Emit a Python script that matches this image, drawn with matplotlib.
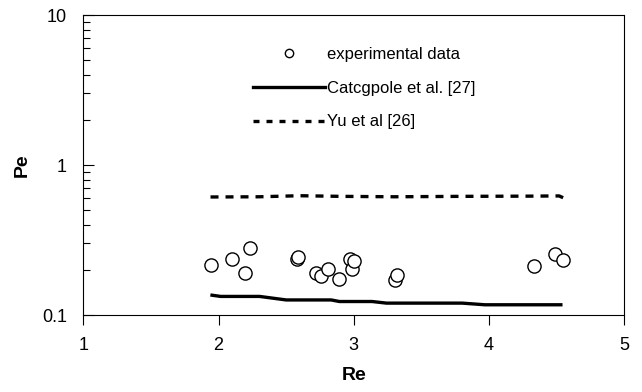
import matplotlib
matplotlib.use("Agg")
import matplotlib.pyplot as plt
from matplotlib.lines import Line2D
from matplotlib.ticker import LogLocator, FixedLocator, NullFormatter

plt.rcParams['font.family'] = ['Liberation Sans', 'DejaVu Sans']

# experimental data
exp_re = [1.945, 2.097, 2.194, 2.230, 2.579, 2.588, 2.718, 2.761, 2.809, 2.894,
          2.970, 2.985, 3.000, 3.303, 3.318, 4.333, 4.488, 4.548]
exp_pe = [0.216, 0.236, 0.190, 0.281, 0.236, 0.242, 0.190, 0.181, 0.202, 0.175,
          0.236, 0.202, 0.228, 0.172, 0.185, 0.211, 0.256, 0.234]

# Catcgpole et al. [27]
cat_re = [1.939, 2.015, 2.303, 2.50, 2.833, 2.894, 3.136, 3.242, 3.803, 3.97, 4.545]
cat_pe = [0.136, 0.133, 0.133, 0.126, 0.126, 0.123, 0.123, 0.120, 0.120, 0.117, 0.117]

# Yu et al [26]
yu_re = [1.94, 2.3, 2.6, 2.9, 3.3, 3.8, 4.3, 4.52, 4.55]
yu_pe = [0.612, 0.614, 0.624, 0.618, 0.614, 0.618, 0.620, 0.622, 0.605]

xticks = [1, 2, 3, 4, 5]
yticks = [0.1, 1, 10]
ytick_labels = ['0.1', '1', '10']

fig = plt.figure(figsize=(6.42, 3.92), dpi=100)
ax = fig.add_axes([83.5/642, 1-315/392, (624-83.5)/642, (315-15)/392])

ax.plot(yu_re, yu_pe, color='black', lw=2.4, dashes=(2.4, 2.1))
ax.plot(cat_re, cat_pe, color='black', lw=2.4, solid_capstyle='butt')
ax.plot(exp_re, exp_pe, linestyle='none', marker='o', markersize=9.5,
        markerfacecolor='white', markeredgecolor='black', markeredgewidth=1.0)

ax.set_yscale('log')
ax.set_xlim(1, 5)
ax.set_ylim(0.1, 10)
ax.xaxis.set_major_locator(FixedLocator(xticks))
ax.set_xticklabels([str(t) for t in xticks])
ax.yaxis.set_major_locator(FixedLocator(yticks))
ax.set_yticklabels(ytick_labels)
ax.yaxis.set_minor_locator(LogLocator(base=10, subs=range(2, 10)))
ax.yaxis.set_minor_formatter(NullFormatter())

ax.tick_params(axis='x', which='major', direction='out', length=7, width=0.8,
               labelsize=13, colors='black', pad=9)
ax.tick_params(axis='y', which='major', direction='in', length=8, width=0.8,
               labelsize=13, colors='black', pad=12)
ax.tick_params(axis='y', which='minor', direction='in', length=5, width=0.8)
for s in ax.spines.values():
    s.set_linewidth(0.8)

ax.set_xlabel('Re', fontsize=14, fontweight='bold', labelpad=9)
ax.set_ylabel('Pe', fontsize=14, fontweight='bold', labelpad=8)

handles = [
    Line2D([], [], linestyle='none', marker='o', markersize=6,
           markerfacecolor='white', markeredgecolor='black', markeredgewidth=1.0),
    Line2D([], [], color='black', lw=2.4),
    Line2D([], [], color='black', lw=2.4, dashes=(1.8, 2.1)),
]
labels = ['experimental data', 'Catcgpole et al. [27]', 'Yu et al [26]']
leg = ax.legend(handles, labels, loc='upper left', frameon=False,
                bbox_to_anchor=(253/642, 1-47/392), bbox_transform=fig.transFigure,
                fontsize=12, handlelength=4.3, handletextpad=0.12,
                labelspacing=1.12, borderpad=0, borderaxespad=0)

fig.savefig('out.png', dpi=100)
